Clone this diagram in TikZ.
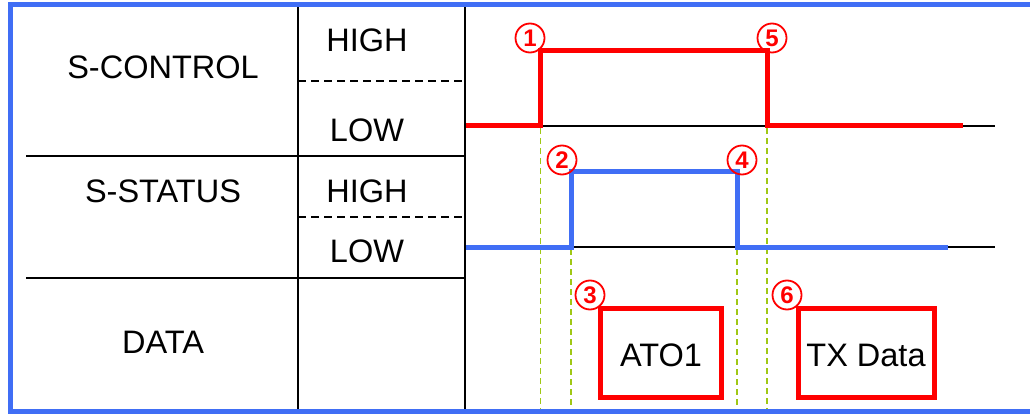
\documentclass[tikz,border=0pt]{standalone}
\usepackage{fontspec}
\setmainfont{Liberation Sans}
\definecolor{fblue}{RGB}{64,110,245}
\definecolor{fred}{RGB}{255,0,0}
\definecolor{fgreen}{RGB}{160,200,20}
\begin{document}
\begin{tikzpicture}[x=1pt,y=-1pt,
  lbl/.style={font=\fontsize{32.5}{38}\selectfont, inner sep=0pt},
  gridline/.style={line width=2pt, black},
  dgrid/.style={line width=1.6pt, black, dash pattern=on 8pt off 5pt},
  wave/.style={line width=5pt, line join=miter},
  baseline/.style={line width=1.6pt, black},
  guide/.style={line width=1.8pt, fgreen, dash pattern=on 6pt off 4pt},
  num/.style={circle, draw=fred, line width=1.8pt, text=fred, inner sep=0pt,
    minimum size=29pt, font=\fontsize{24}{24}\selectfont\bfseries},
  databox/.style={draw=fred, line width=5pt, minimum height=89.5pt,
    inner sep=0pt}
]
\useasboundingbox (0,0) rectangle (1030,414);

% guides
\coordinate (g1t) at (540.5,128); \coordinate (g1b) at (540.5,412);
\coordinate (g2t) at (571,249);   \coordinate (g2b) at (571,412);
\coordinate (g3t) at (737,249);   \coordinate (g3b) at (737,412);
\coordinate (g4t) at (767,128);   \coordinate (g4b) at (767,412);
\draw[guide] (g1t) -- (g1b);
\draw[guide] (g2t) -- (g2b);
\draw[guide] (g3t) -- (g3b);
\draw[guide] (g4t) -- (g4b);

% baselines
\coordinate (b1s) at (465,126); \coordinate (b1e) at (995,126);
\coordinate (b2s) at (465,247); \coordinate (b2e) at (995,247);
\draw[baseline] (b1s) -- (b1e);
\draw[baseline] (b2s) -- (b2e);

% waveforms
\draw[wave, fred] (465,126) -- (540.5,126) -- (540.5,51) -- (767,51) -- (767,126) -- (963,126);
\draw[wave, fblue] (465,247) -- (571,247) -- (571,172) -- (737,172) -- (737,247) -- (948,247);

% table
\coordinate (v1t) at (298,7); \coordinate (v1b) at (298,410);
\coordinate (v2t) at (465,7); \coordinate (v2b) at (465,410);
\draw[gridline] (v1t) -- (v1b);
\draw[gridline] (v2t) -- (v2b);
\coordinate (h1s) at (26,156); \coordinate (h1e) at (465,156);
\coordinate (h2s) at (26,278); \coordinate (h2e) at (465,278);
\draw[gridline] (h1s) -- (h1e);
\draw[gridline] (h2s) -- (h2e);
\coordinate (d1s) at (298,81); \coordinate (d1e) at (465,81);
\coordinate (d2s) at (298,217); \coordinate (d2e) at (465,217);
\draw[dgrid] (d1s) -- (d1e);
\draw[dgrid] (d2s) -- (d2e);

\node[lbl] (sctl) at (163,67) {S-CONTROL};
\node[lbl] (ch) at (367,40) {HIGH};
\node[lbl] (cl) at (367,130) {LOW};
\node[lbl] (sst) at (163,191) {S-STATUS};
\node[lbl] (sh) at (367,191) {HIGH};
\node[lbl] (sl) at (367,251) {LOW};
\node[lbl] (data) at (163,342) {DATA};

% data boxes
\node[databox, minimum width=121pt] (ato) at (661,352.75) {};
\node[lbl] (atot) at (661,355) {ATO1};
\node[databox, minimum width=136pt] (tx) at (866,352.75) {};
\node[lbl] (txt) at (866,355) {TX Data};

% circled numbers
\node[num] (n1) at (530,38) {1};
\node[num] (n5) at (772,38) {5};
\node[num] (n2) at (562,160) {2};
\node[num] (n4) at (742,160) {4};
\node[num] (n3) at (590,295) {3};
\node[num] (n6) at (787,295) {6};

% outer border
\draw[fblue, line width=5pt] (10.5,5) rectangle (1040,411.8);
\end{tikzpicture}
\end{document}
